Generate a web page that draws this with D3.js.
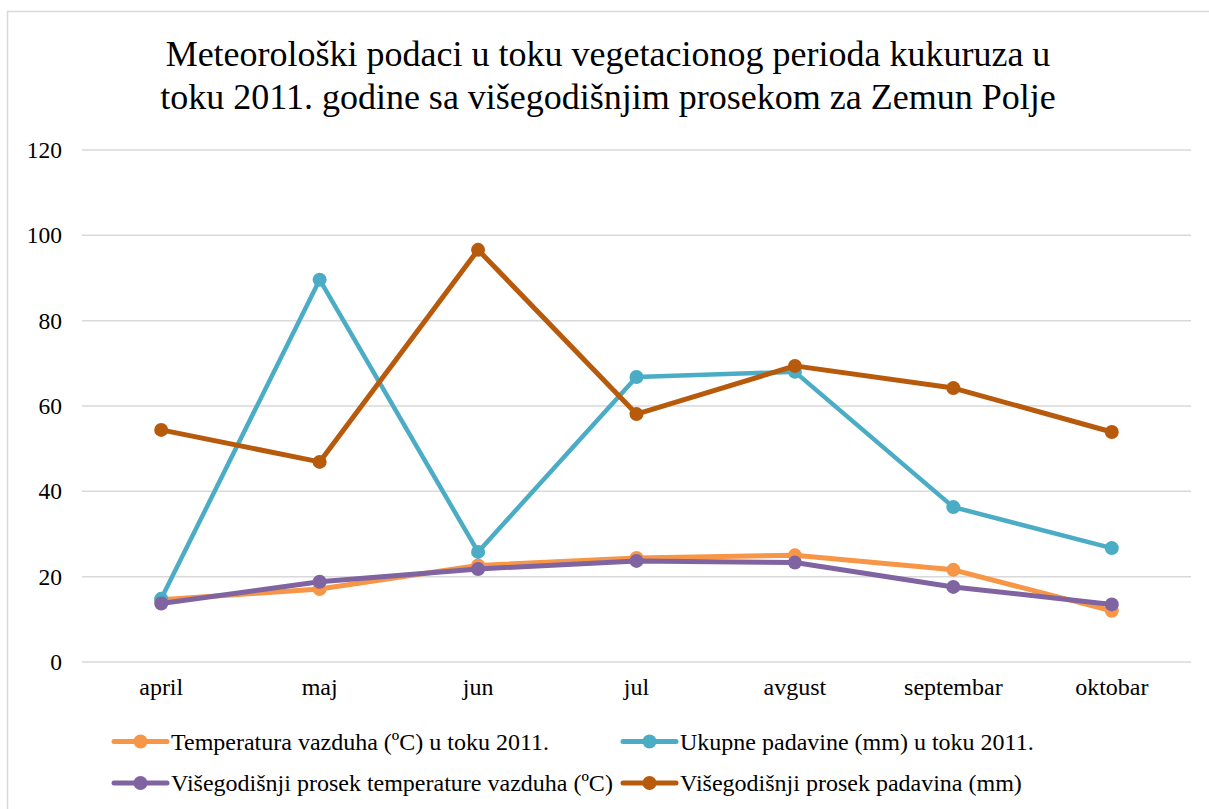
<!DOCTYPE html>
<html>
<head>
<meta charset="utf-8">
<script src="https://cdn.jsdelivr.net/npm/d3@7"></script>
<style>
html,body{margin:0;padding:0;background:#fff;}
svg{display:block;}
text{font-family:"Liberation Serif","Times New Roman",serif;fill:#000;}
</style>
</head>
<body>
<svg id="chart" width="1209" height="809"></svg>
<script>
const categories = ["april","maj","jun","jul","avgust","septembar","oktobar"];
const tempValues = [14.6, 17.1, 22.6, 24.4, 25.0, 21.6, 12.0];
const rainValues = [14.8, 89.6, 25.8, 66.8, 68.0, 36.3, 26.7];
const avgTempValues = [13.7, 18.8, 21.8, 23.7, 23.3, 17.6, 13.5];
const avgRainValues = [54.4, 46.9, 96.6, 58.1, 69.4, 64.2, 53.9];
const yTicks = [0, 20, 40, 60, 80, 100, 120];
const seriesNames = [
  "Temperatura vazduha (ºC) u toku 2011.",
  "Ukupne padavine (mm) u toku 2011.",
  "Višegodišnji prosek temperature vazduha (ºC)",
  "Višegodišnji prosek padavina (mm)"
];
const colors = ["#F79646", "#4BACC6", "#8064A2", "#B85A0C"];
const titleLines = [
  "Meteorološki podaci u toku vegetacionog perioda kukuruza u",
  "toku 2011. godine sa višegodišnjim prosekom za Zemun Polje"
];

(function () {
const FONT = "'Liberation Serif', 'Times New Roman', serif";
const series = [
  {name: seriesNames[0], values: tempValues, color: colors[0], w: 5},
  {name: seriesNames[1], values: rainValues, color: colors[1], w: 4.5},
  {name: seriesNames[2], values: avgTempValues, color: colors[2], w: 5},
  {name: seriesNames[3], values: avgRainValues, color: colors[3], w: 5}
];

const svg = d3.select("#chart");
svg.append("rect").attr("x", 7.5).attr("y", 11.5).attr("width", 1300).attr("height", 900)
  .attr("fill", "#fff").attr("stroke", "#d9d9d9").attr("stroke-width", 1.5);

svg.selectAll("text.title").data(titleLines).enter().append("text")
  .attr("class", "title")
  .attr("x", 608).attr("y", (d, i) => 66 + i * 43)
  .attr("text-anchor", "middle")
  .style("font-family", FONT)
  .style("font-size", "36px")
  .text(d => d);

const pLeft = 82, pRight = 1191, pTop = 150, pBottom = 662;
const x = d3.scaleBand().domain(categories).range([pLeft, pRight]);
const y = d3.scaleLinear().domain([0, 120]).range([pBottom, pTop]);

svg.append("g").selectAll("line").data(yTicks).enter().append("line")
  .attr("x1", pLeft).attr("x2", pRight)
  .attr("y1", d => y(d)).attr("y2", d => y(d))
  .attr("stroke", "#d9d9d9").attr("stroke-width", 1.5);

const yAxis = svg.append("g").attr("transform", `translate(${pLeft},0)`)
  .call(d3.axisLeft(y).tickValues(yTicks).tickSize(0).tickPadding(20));
yAxis.select(".domain").remove();
yAxis.attr("font-family", null).attr("font-size", null);
yAxis.selectAll("text").style("font-size", "23.5px").style("font-family", FONT).attr("fill", "#000");

const xAxis = svg.append("g").attr("transform", `translate(0,${pBottom})`)
  .call(d3.axisBottom(x).tickSize(0).tickPadding(16));
xAxis.select(".domain").remove();
xAxis.attr("font-family", null).attr("font-size", null);
xAxis.selectAll("text").style("font-size", "24px").style("font-family", FONT).attr("fill", "#000");

const cx = d => x(d) + x.bandwidth() / 2;
const line = d3.line().x((d, i) => cx(categories[i])).y(d => y(d));

series.forEach(s => {
  const g = svg.append("g");
  g.append("path").datum(s.values).attr("d", line)
    .attr("fill", "none").attr("stroke", s.color).attr("stroke-width", s.w)
    .attr("stroke-linejoin", "round").attr("stroke-linecap", "round");
  g.selectAll("circle").data(s.values).enter().append("circle")
    .attr("cx", (d, i) => cx(categories[i])).attr("cy", d => y(d))
    .attr("r", 7).attr("fill", s.color);
});

const legendPos = [
  {x: 113, y: 741.5}, {x: 622, y: 741.5},
  {x: 113, y: 783}, {x: 622, y: 783}
];
series.forEach((s, i) => {
  const p = legendPos[i];
  const g = svg.append("g").attr("transform", `translate(${p.x},${p.y})`);
  g.append("line").attr("x1", 1).attr("x2", 54).attr("y1", 0).attr("y2", 0)
    .attr("stroke", s.color).attr("stroke-width", 5).attr("stroke-linecap", "round");
  g.append("circle").attr("cx", 27.5).attr("cy", 0).attr("r", 7).attr("fill", s.color);
  g.append("text").attr("x", 58).attr("y", 0).attr("dy", "0.35em")
    .style("font-family", FONT)
    .style("font-size", "24px").text(s.name);
});
})();
</script>
</body>
</html>
